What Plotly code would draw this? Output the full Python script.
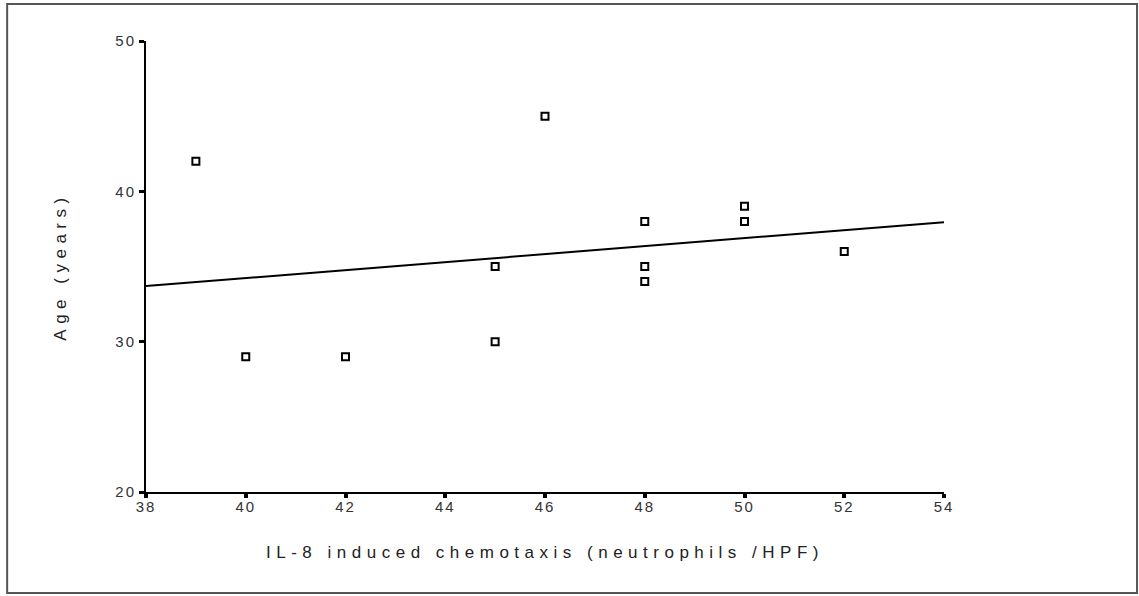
import plotly.graph_objects as go

# Data
chemotaxis = [39, 40, 42, 45, 45, 46, 48, 48, 48, 50, 50, 52]
age = [42, 29, 29, 35, 30, 45, 38, 35, 34, 39, 38, 36]

# Regression line end points
fit_x = [38, 54]
fit_y = [33.7, 37.95]

x_ticks = [38, 40, 42, 44, 46, 48, 50, 52, 54]
y_ticks = [20, 30, 40, 50]

FONT = "Liberation Sans, Arial, sans-serif"

fig = go.Figure()
fig.add_trace(go.Scatter(
    x=fit_x, y=fit_y, mode="lines",
    line=dict(color="black", width=2),
    showlegend=False, hoverinfo="skip"))
fig.add_trace(go.Scatter(
    x=chemotaxis, y=age, mode="markers",
    marker=dict(symbol="square-open", size=7, color="black",
                line=dict(width=2, color="black")),
    showlegend=False))

fig.update_xaxes(
    range=[38, 54], tickvals=x_ticks, ticktext=[str(v) for v in x_ticks],
    showgrid=False, zeroline=False, showline=True, linecolor="black", linewidth=2,
    ticks="outside", ticklen=4, tickwidth=4, tickcolor="black",
    ticklabelstandoff=-4,
    tickfont=dict(family=FONT, size=15, color="#333"),
    title=dict(text="IL-8 induced chemotaxis (neutrophils /HPF)",
               font=dict(family=FONT, size=17, color="#222"), standoff=32))
fig.update_yaxes(
    range=[20, 50], tickvals=y_ticks, ticktext=[str(v) for v in y_ticks],
    showgrid=False, zeroline=False, showline=True, linecolor="black", linewidth=2,
    ticks="outside", ticklen=5, tickwidth=3, tickcolor="black",
    tickfont=dict(family=FONT, size=15, color="#333"),
    title=dict(text="Age (years)", font=dict(family=FONT, size=17, color="#222"),
               standoff=48))

# outer frame around the whole figure
fig.add_shape(type="rect", xref="paper", yref="paper",
              x0=-0.174, x1=1.2419, y0=-0.224, y1=1.082,
              line=dict(color="#555", width=2), fillcolor="rgba(0,0,0,0)")

fig.update_layout(
    width=1139, height=596,
    margin=dict(l=146, r=195, t=41, b=104),
    paper_bgcolor="white", plot_bgcolor="white",
    font=dict(family=FONT),
)

post = """
document.body.style.margin='0';
document.body.style.padding='0';
function spaceOut(){
  document.querySelectorAll('.xtitle').forEach(function(t){ t.style.letterSpacing='5.5px'; });
  document.querySelectorAll('.ytitle').forEach(function(t){ t.style.letterSpacing='5.5px'; });
  document.querySelectorAll('.xtick text, .ytick text').forEach(function(t){ t.style.letterSpacing='2px'; });
}
spaceOut();
var gd = document.getElementsByClassName('plotly-graph-div')[0];
if (gd && gd.on) { gd.on('plotly_afterplot', spaceOut); }
"""

fig.write_html("out.html", post_script=post, config={"displayModeBar": False})
